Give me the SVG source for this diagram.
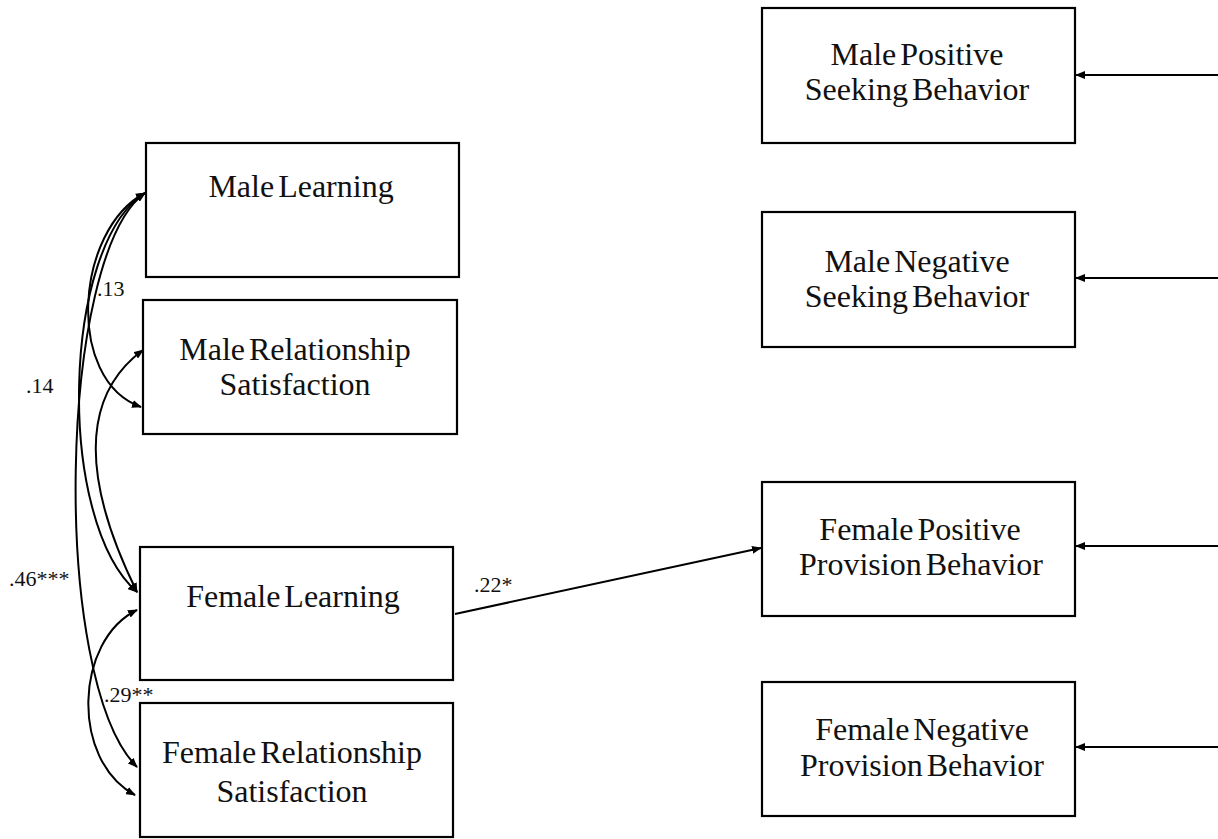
<svg xmlns="http://www.w3.org/2000/svg" width="1218" height="839" viewBox="0 0 1218 839">
  <defs>
    <marker id="arrow" viewBox="0 0 10 8" refX="9" refY="4" markerWidth="10" markerHeight="8" markerUnits="userSpaceOnUse" orient="auto-start-reverse">
      <path d="M0,0 L10,4 L0,8 Z" fill="#000"/>
    </marker>
    <style>
      .box { fill: #fff; stroke: #000; stroke-width: 2.2; }
      .label { font-family: "Liberation Serif", "Times New Roman", serif; font-size: 32px; word-spacing: -4px; fill: #111; text-anchor: middle; }
      .coef { font-family: "Liberation Serif", "Times New Roman", serif; font-size: 22px; fill: #111; }
      .link { fill: none; stroke: #000; stroke-width: 2; }
    </style>
  </defs>
  <rect width="1218" height="839" fill="#fff"/>

  <!-- predictor boxes -->
  <g id="male-learning">
    <rect class="box" x="146" y="143" width="313" height="134"/>
    <text class="label" x="301" y="197">Male Learning</text>
  </g>
  <g id="male-relationship-satisfaction">
    <rect class="box" x="143" y="300" width="314" height="134"/>
    <text class="label" x="295" y="360">Male Relationship</text>
    <text class="label" x="295" y="395">Satisfaction</text>
  </g>
  <g id="female-learning">
    <rect class="box" x="140" y="547" width="313" height="133"/>
    <text class="label" x="293" y="607">Female Learning</text>
  </g>
  <g id="female-relationship-satisfaction">
    <rect class="box" x="140" y="703" width="313" height="134"/>
    <text class="label" x="292" y="763">Female Relationship</text>
    <text class="label" x="292" y="802">Satisfaction</text>
  </g>

  <!-- outcome boxes -->
  <g id="male-positive-seeking">
    <rect class="box" x="762" y="8" width="313" height="135"/>
    <text class="label" x="917" y="65">Male Positive</text>
    <text class="label" x="917" y="100">Seeking Behavior</text>
  </g>
  <g id="male-negative-seeking">
    <rect class="box" x="762" y="212" width="313" height="135"/>
    <text class="label" x="917" y="272">Male Negative</text>
    <text class="label" x="917" y="307">Seeking Behavior</text>
  </g>
  <g id="female-positive-provision">
    <rect class="box" x="762" y="482" width="313" height="134"/>
    <text class="label" x="920" y="540">Female Positive</text>
    <text class="label" x="921" y="575">Provision Behavior</text>
  </g>
  <g id="female-negative-provision">
    <rect class="box" x="762" y="682" width="313" height="134"/>
    <text class="label" x="922" y="740">Female Negative</text>
    <text class="label" x="922" y="776">Provision Behavior</text>
  </g>

  <!-- covariances, path and residual arrows -->
  <g id="connectors">
    <path class="link" d="M145,193 C75,230 65,380 141,407" marker-start="url(#arrow)" marker-end="url(#arrow)"/>
    <path class="link" d="M145,193 C62,245 55,520 137,592" marker-start="url(#arrow)" marker-end="url(#arrow)"/>
    <path class="link" d="M145,193 C58,255 50,680 137,767" marker-start="url(#arrow)" marker-end="url(#arrow)"/>
    <path class="link" d="M143,350 C105,378 62,440 137,592" marker-start="url(#arrow)" marker-end="url(#arrow)"/>
    <path class="link" d="M137,610 C75,640 70,760 135,795" marker-start="url(#arrow)" marker-end="url(#arrow)"/>
    <path class="link" d="M455,614 L761,548" marker-end="url(#arrow)"/>
    <path class="link" d="M1218,75 L1076,75" marker-end="url(#arrow)"/>
    <path class="link" d="M1218,278 L1076,278" marker-end="url(#arrow)"/>
    <path class="link" d="M1218,546 L1076,546" marker-end="url(#arrow)"/>
    <path class="link" d="M1218,747 L1076,747" marker-end="url(#arrow)"/>
  </g>

  <!-- coefficients -->
  <g id="coefficients">
    <text class="coef" x="97" y="296">.13</text>
    <text class="coef" x="26" y="393">.14</text>
    <text class="coef" x="9" y="586">.46***</text>
    <text class="coef" x="104" y="702">.29**</text>
    <text class="coef" x="474" y="592">.22*</text>
  </g>
</svg>
